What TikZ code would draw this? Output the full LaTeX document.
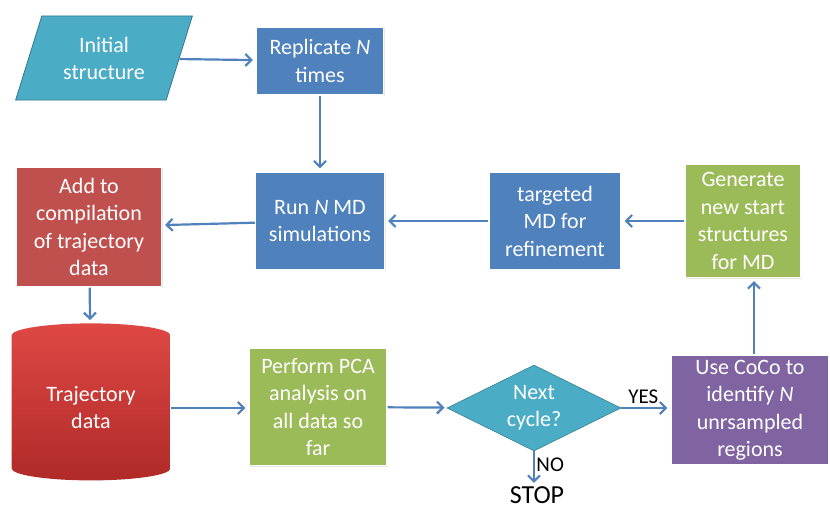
\documentclass[tikz,border=0pt]{standalone}
\usepackage{fontspec}
\setmainfont{Carlito}
\usetikzlibrary{arrows.meta,positioning,shapes.geometric,shadows}
\definecolor{aqua}{RGB}{75,172,198}
\definecolor{azul}{RGB}{79,129,189}
\definecolor{rojo}{RGB}{192,80,77}
\definecolor{rojoc}{RGB}{222,72,68}
\definecolor{rojof}{RGB}{176,42,40}
\definecolor{verde}{RGB}{155,187,89}
\definecolor{morado}{RGB}{128,100,162}
\tikzset{
  caja/.style={rectangle, draw=white, line width=1.2pt, align=center, inner sep=2pt, text=white,
    font=\fontsize{22}{27.5}\selectfont, drop shadow={opacity=0.18, shadow xshift=1pt, shadow yshift=-1pt}},
  cajaaz/.style={caja, fill=azul},
  cajave/.style={caja, fill=verde},
  cajaro/.style={caja, fill=rojo},
  cajamo/.style={caja, fill=morado},
  para/.style={trapezium, trapezium left angle=68, trapezium right angle=112, trapezium stretches=true,
    draw=aqua!70!black, line width=0.8pt, fill=aqua, text=white, align=center, inner sep=0pt,
    font=\fontsize{22}{27}\selectfont},
  cil/.style={cylinder, shape border rotate=90, aspect=0.27, top color=rojoc, bottom color=rojof,
    text=white, align=center, inner sep=0pt, font=\fontsize{22}{27}\selectfont},
  rombo/.style={diamond, aspect=2, fill=aqua, draw=aqua!75!black, line width=0.6pt, text=white,
    align=center, inner sep=0pt, font=\fontsize{22}{27}\selectfont},
  fl/.style={-{Straight Barb[length=6pt,width=12pt]}, line width=2.2pt, azul, shorten >=3pt},
  et/.style={font=\fontsize{21}{24}\selectfont, text=black},
}
\begin{document}
\begin{tikzpicture}[x=1pt, y=-1pt]
  \useasboundingbox (0,0) rectangle (830,511);
  % top row
  \node[para, minimum width=177pt, minimum height=84pt] (ini) at (104,58) {Initial\\structure};
  \node[cajaaz, minimum width=127pt, minimum height=68pt] (repl) at (320,61) {Replicate \textit{N}\\times};
  % middle row
  \node[cajaro, minimum width=145pt, minimum height=120pt] (comp) at (89,227) {Add to\\compilation\\of trajectory\\data};
  \node[cajaaz, minimum width=129pt, minimum height=98pt] (run) at (320,221) {Run \textit{N} MD\\simulations};
  \node[cajaaz, minimum width=132pt, minimum height=98pt] (targ) at (555,221) {targeted\\MD for\\refinement};
  \node[cajave, minimum width=116pt, minimum height=113pt] (gen) at (743,221) {Generate\\new start\\structures\\for MD};
  % bottom row
  \node[cil, minimum width=159pt, minimum height=157pt] (traj) at (91,408) {Trajectory\\data};
  \node[cajave, minimum width=138pt, minimum height=117pt] (pca) at (318,407) {Perform PCA\\analysis on\\all data so\\far};
  \node[rombo, minimum width=174pt, minimum height=86pt] (next) at (534,408) {Next\\cycle?};
  \node[cajamo, minimum width=158pt, minimum height=110pt] (coco) at (750,410) {Use CoCo to\\identify \textit{N}\\unrsampled\\regions};
  \node[font=\fontsize{26}{28}\selectfont, anchor=base, inner sep=0pt] (stop) at (537,503) {STOP};

  \draw[fl] (ini) -- (repl);
  \draw[fl] (repl) -- (run);
  \draw[fl] (run) -- (comp);
  \draw[fl] (targ) -- (run);
  \draw[fl] (gen) -- (targ);
  \draw[fl] (comp) -- (traj);
  \draw[fl] (traj.east) -- (pca.west |- traj.east);
  \draw[fl] (pca) -- (next);
  \draw[fl] (next) -- node[et, above, pos=0.45] {YES} (coco.west |- next.east);
  \draw[fl] (next.south) -- node[et, right, pos=0.4, xshift=-2pt] {NO} (next.south |- stop.north);
  \draw[fl] (coco.north -| gen.south) ++(11,0) coordinate (cocotop) -- (cocotop |- gen.south);
\end{tikzpicture}
\end{document}
